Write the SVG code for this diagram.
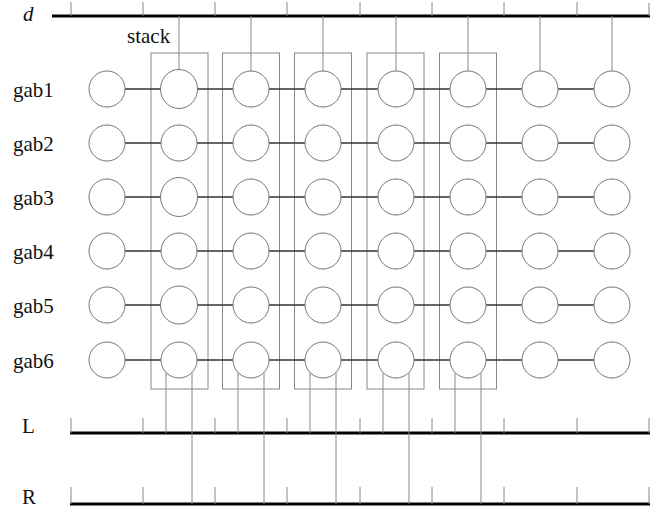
<svg xmlns="http://www.w3.org/2000/svg" width="669" height="508" viewBox="0 0 669 508">
<style>
.bg{fill:#fff}
.lbl{font-family:"Liberation Serif","DejaVu Serif",serif;font-size:21px;fill:#111}
.bus{stroke:#000;stroke-width:3;fill:none}
.tick{stroke:#888;stroke-width:1;fill:none}
.v{stroke:#888;stroke-width:1;fill:none}
.h{stroke:#333;stroke-width:1.6;fill:none}
.box{stroke:#888;stroke-width:1;fill:none}
.n{stroke:#777;stroke-width:1;fill:#fff}
</style>
<rect class="bg" x="0" y="0" width="669" height="508"/>
<g id="buses">
<line class="bus" x1="52" y1="16" x2="650" y2="16"/>
<line class="bus" x1="70" y1="433" x2="650" y2="433"/>
<line class="bus" x1="70" y1="504" x2="650" y2="504"/>
<path class="tick" d="M71,2V16M143,2V16M215,2V16M287,2V16M360,2V16M432,2V16M504,2V16M577,2V16M649,3V16"/>
<path class="tick" d="M71,418V433M143,418V433M215,418V433M287,418V433M360,418V433M432,418V433M504,418V433M577,418V433M649,418V433"/>
<path class="tick" d="M71,487V504M143,487V504M215,487V504M287,487V504M360,487V504M432,487V504M504,487V504M577,487V504M649,487V504"/>
</g>
<g id="stacks">
<rect id="stack1" class="box" x="151" y="53" width="57" height="336"/>
<rect id="stack2" class="box" x="222.5" y="53" width="57" height="336"/>
<rect id="stack3" class="box" x="294.5" y="53" width="57" height="336"/>
<rect id="stack4" class="box" x="367" y="53" width="57" height="336"/>
<rect id="stack5" class="box" x="439.5" y="53" width="57" height="336"/>
</g>
<g id="connectors">
<path class="v" d="M179,16V69.5M251,16V71M323,16V71M396,16V71M468,16V71M540,16V71M612,16V71"/>
<path class="h" d="M125,89H161M197,89H233M269,89H305M341,89H378M414,89H450M486,89H522M558,89H594"/>
<path class="h" d="M125,143H161M197,143H233M269,143H305M341,143H378M414,143H450M486,143H522M558,143H594"/>
<path class="h" d="M125,197H161M197,197H233M269,197H305M341,197H378M414,197H450M486,197H522M558,197H594"/>
<path class="h" d="M125,251H161M197,251H233M269,251H305M341,251H378M414,251H450M486,251H522M558,251H594"/>
<path class="h" d="M125,305H161M197,305H233M269,305H305M341,305H378M414,305H450M486,305H522M558,305H594"/>
<path class="h" d="M125,360H161M197,360H233M269,360H305M341,360H378M414,360H450M486,360H522M558,360H594"/>
<path class="v" d="M166,372.5V433M238,372.5V433M310,372.5V433M383,372.5V433M455,372.5V433"/>
<path class="v" d="M192,372.5V504M264,372.5V504M336,372.5V504M409,372.5V504M481,372.5V504"/>
</g>
<g id="nodes">
<g id="gab1">
<circle id="n1-1" class="n" cx="107" cy="89" r="18"/>
<ellipse id="n1-2" class="n" cx="179" cy="89" rx="18.5" ry="19.5"/>
<circle id="n1-3" class="n" cx="251" cy="89" r="18"/>
<circle id="n1-4" class="n" cx="323" cy="89" r="18"/>
<circle id="n1-5" class="n" cx="396" cy="89" r="18"/>
<circle id="n1-6" class="n" cx="468" cy="89" r="18"/>
<circle id="n1-7" class="n" cx="540" cy="89" r="18"/>
<circle id="n1-8" class="n" cx="612" cy="89" r="18"/>
</g>
<g id="gab2">
<circle id="n2-1" class="n" cx="107" cy="143" r="18"/>
<circle id="n2-2" class="n" cx="179" cy="143" r="18"/>
<circle id="n2-3" class="n" cx="251" cy="143" r="18"/>
<circle id="n2-4" class="n" cx="323" cy="143" r="18"/>
<circle id="n2-5" class="n" cx="396" cy="143" r="18"/>
<circle id="n2-6" class="n" cx="468" cy="143" r="18"/>
<circle id="n2-7" class="n" cx="540" cy="143" r="18"/>
<circle id="n2-8" class="n" cx="612" cy="143" r="18"/>
</g>
<g id="gab3">
<circle id="n3-1" class="n" cx="107" cy="197" r="18"/>
<ellipse id="n3-2" class="n" cx="179" cy="197" rx="18.5" ry="19.5"/>
<circle id="n3-3" class="n" cx="251" cy="197" r="18"/>
<circle id="n3-4" class="n" cx="323" cy="197" r="18"/>
<circle id="n3-5" class="n" cx="396" cy="197" r="18"/>
<circle id="n3-6" class="n" cx="468" cy="197" r="18"/>
<circle id="n3-7" class="n" cx="540" cy="197" r="18"/>
<circle id="n3-8" class="n" cx="612" cy="197" r="18"/>
</g>
<g id="gab4">
<circle id="n4-1" class="n" cx="107" cy="251" r="18"/>
<circle id="n4-2" class="n" cx="179" cy="251" r="18"/>
<circle id="n4-3" class="n" cx="251" cy="251" r="18"/>
<circle id="n4-4" class="n" cx="323" cy="251" r="18"/>
<circle id="n4-5" class="n" cx="396" cy="251" r="18"/>
<circle id="n4-6" class="n" cx="468" cy="251" r="18"/>
<circle id="n4-7" class="n" cx="540" cy="251" r="18"/>
<circle id="n4-8" class="n" cx="612" cy="251" r="18"/>
</g>
<g id="gab5">
<circle id="n5-1" class="n" cx="107" cy="305" r="18"/>
<ellipse id="n5-2" class="n" cx="179" cy="305" rx="18.5" ry="19"/>
<circle id="n5-3" class="n" cx="251" cy="305" r="18"/>
<circle id="n5-4" class="n" cx="323" cy="305" r="18"/>
<circle id="n5-5" class="n" cx="396" cy="305" r="18"/>
<circle id="n5-6" class="n" cx="468" cy="305" r="18"/>
<circle id="n5-7" class="n" cx="540" cy="305" r="18"/>
<circle id="n5-8" class="n" cx="612" cy="305" r="18"/>
</g>
<g id="gab6">
<circle id="n6-1" class="n" cx="107" cy="360" r="18"/>
<circle id="n6-2" class="n" cx="179" cy="360" r="18"/>
<circle id="n6-3" class="n" cx="251" cy="360" r="18"/>
<circle id="n6-4" class="n" cx="323" cy="360" r="18"/>
<circle id="n6-5" class="n" cx="396" cy="360" r="18"/>
<circle id="n6-6" class="n" cx="468" cy="360" r="18"/>
<circle id="n6-7" class="n" cx="540" cy="360" r="18"/>
<circle id="n6-8" class="n" cx="612" cy="360" r="18"/>
</g>
</g>
<g id="labels">
<text class="lbl" x="23" y="21" font-style="italic">d</text>
<text class="lbl" x="127" y="43" font-size="20">stack</text>
<text class="lbl" x="13" y="97">gab1</text>
<text class="lbl" x="13" y="151">gab2</text>
<text class="lbl" x="13" y="205">gab3</text>
<text class="lbl" x="13" y="259">gab4</text>
<text class="lbl" x="13" y="313">gab5</text>
<text class="lbl" x="13" y="368">gab6</text>
<text class="lbl" x="22" y="433">L</text>
<text class="lbl" x="22" y="504">R</text>
</g>
</svg>
